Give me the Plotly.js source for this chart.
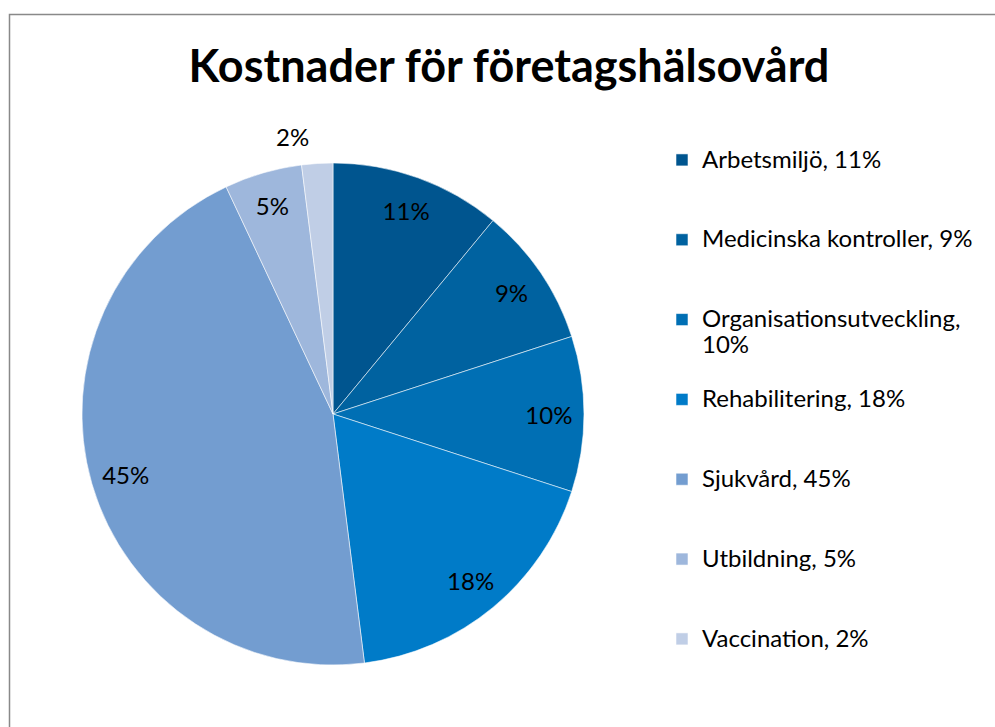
<!DOCTYPE html>
<html><head><meta charset="utf-8">
<script src="https://cdn.plot.ly/plotly-3.0.1.min.js"></script>
<style>html,body{margin:0;padding:0;background:#fff}#chart{width:995px;height:727px}</style>
</head><body><div id="chart"></div>
<script>
// ---- data ----
const categories = ['Arbetsmiljö', 'Medicinska kontroller', 'Organisationsutveckling', 'Rehabilitering', 'Sjukvård', 'Utbildning', 'Vaccination'];
const shares = [11, 9, 10, 18, 45, 5, 2];
const sliceColors = ['#00558F', '#0062A0', '#006FB4', '#007BC8', '#739DD0', '#9EB7DC', '#C0CEE6'];
const labelPlacement = ['inside', 'inside', 'inside', 'inside', 'inside', 'inside', 'outside'];
const chartTitle = 'Kostnader för företagshälsovård';

// ---- legend labels (built from the data) ----
const FONT = 'Lato, "Open Sans", sans-serif';
const TXT = 24;
const BLANK = '\u00a0';
function legendLabel(name, v) {
  let full = name + ', ' + v + '%';
  let lines = full.length > 26 ? [name + ',', v + '%'] : [full];
  lines = [BLANK].concat(lines);
  while (lines.length < 3) lines.push(BLANK);
  return lines.map(l => '<span style="font-size:' + TXT + 'px">' + l + '</span>').join('<br>');
}
const legendLabels = categories.map((c, i) => legendLabel(c, shares[i]));

const domain = {x: [0.08241, 0.58693], y: [0.08528, 0.77579]};
// outside label pushed a little away from the rim (label layer only)
const PULL = 0.05;
function grow(d, f) {
  const cx = (d[0] + d[1]) / 2, h = (d[1] - d[0]) / 2 * f;
  return [cx - h, cx + h];
}
const labelDomain = {x: grow(domain.x, 1 + PULL), y: grow(domain.y, 1 + PULL)};

const pieTrace = {
  type: 'pie',
  labels: legendLabels,
  values: shares,
  sort: false,
  direction: 'clockwise',
  rotation: 0,
  domain: domain,
  marker: {colors: sliceColors, line: {color: 'rgba(255,255,255,0.55)', width: 1}},
  textinfo: 'none',
  hoverinfo: 'skip',
  showlegend: true
};

const labelTrace = {
  type: 'pie',
  labels: categories,
  values: shares,
  sort: false,
  direction: 'clockwise',
  rotation: 0,
  hole: 0.72,
  domain: labelDomain,
  pull: labelPlacement.map(p => p === 'outside' ? PULL : 0),
  marker: {colors: categories.map(() => 'rgba(0,0,0,0)'), line: {width: 0}},
  texttemplate: '%{value}%',
  textposition: labelPlacement,
  insidetextorientation: 'horizontal',
  textfont: {family: FONT, size: TXT, color: '#000'},
  hoverinfo: 'skip',
  showlegend: false
};

const layout = {
  width: 995, height: 727,
  margin: {l: 0, r: 0, t: 0, b: 0},
  paper_bgcolor: '#fff',
  font: {family: FONT, color: '#000'},
  title: {
    text: '<b>' + chartTitle + '</b>',
    font: {family: FONT, size: 45, color: '#000'},
    x: 509 / 995, xanchor: 'center', xref: 'paper',
    y: 1 - 66 / 727, yanchor: 'middle', yref: 'container'
  },
  showlegend: true,
  legend: {
    x: 662 / 995, xanchor: 'left',
    y: 1 - 115 / 727, yanchor: 'top',
    font: {family: FONT, size: 19.7, color: '#000'},
    bgcolor: 'rgba(0,0,0,0)',
    traceorder: 'normal'
  },
  shapes: [{
    type: 'rect', xref: 'paper', yref: 'paper',
    x0: 9.5 / 995, x1: 1.02, y0: -0.02, y1: 1 - 14.5 / 727,
    line: {color: '#898989', width: 1.5}, fillcolor: 'rgba(0,0,0,0)', layer: 'below'
  }]
};

Plotly.newPlot('chart', [pieTrace, labelTrace], layout, {displayModeBar: false, staticPlot: true});
</script>
</body></html>
